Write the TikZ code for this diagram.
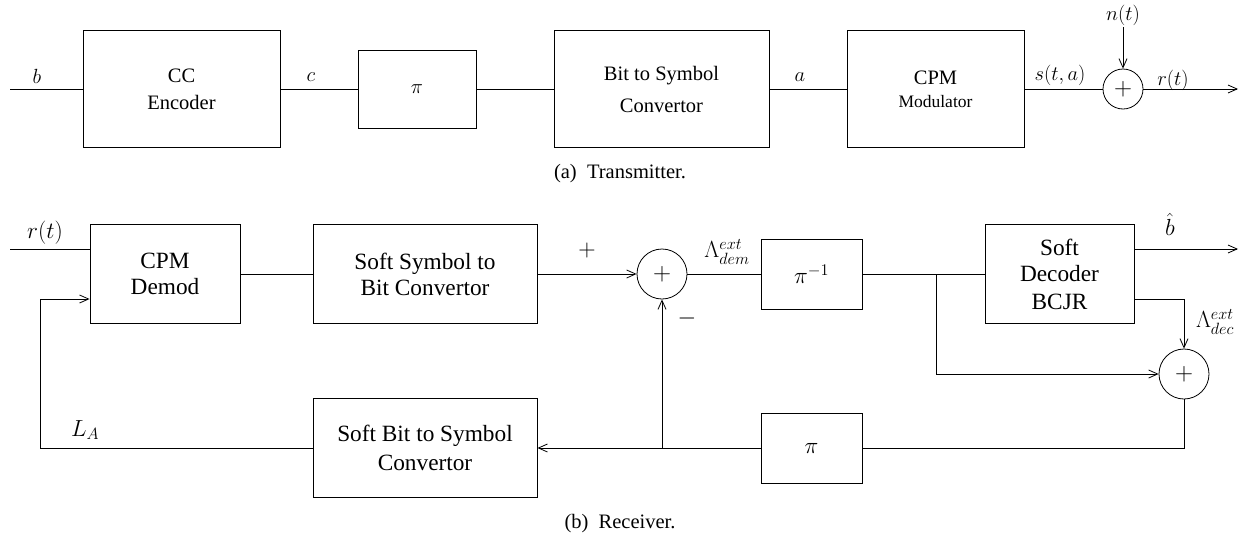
\documentclass[tikz,border=0pt]{standalone}
\usepackage{fix-cm}
\usepackage{amssymb}
\usepackage{amsmath}
\usepackage{fontspec}
\setmainfont{Liberation Serif}
\usepackage{tikz}
\usetikzlibrary{positioning,arrows.meta}

\newcommand{\txsize}{\fontsize{20.5}{27}\selectfont}
\newcommand{\rxsize}{\fontsize{23.3}{26}\selectfont}
\newcommand{\plussize}{\fontsize{25}{25}\selectfont}

\begin{document}
\begin{tikzpicture}[
x=1pt,y=-1pt,
line width=0.8pt,
block/.style={
  draw,
  rectangle,
  line width=0.9pt,
  inner sep=0pt,
  align=center
  },
txblock/.style={
  block,
  font=\txsize
  },
rxblock/.style={
  block,
  font=\rxsize
  },
adder/.style={
  draw,
  circle,
  inner sep=0pt,
  font=\plussize
  },
lbl/.style={
  inner sep=0pt
  },
>={Straight Barb[length=9pt,width=8pt]}
]
\useasboundingbox (0,0) rectangle (1247,536);

\node[txblock, minimum width=197pt, minimum height=117pt] (enc) at (181.5,89) {CC\\Encoder};
\node[txblock, minimum width=118pt, minimum height=78pt] (pi) at (417,89) {$\pi$};
\node[txblock, minimum width=215pt, minimum height=117pt] (b2s) at (661.5,89) {Bit to Symbol\\[5pt]Convertor};
\node[txblock, minimum width=177pt, minimum height=117pt] (mod) at (935.5,89) {CPM\\[-4pt]{\fontsize{17.5}{20}\selectfont Modulator}};
\node[adder, minimum size=40pt] (sum1) at (1123,89) {$+$};
\coordinate (tin) at (10,89);
\coordinate (tout) at (1238,89);
\coordinate (noise) at (1123,27);

\node[lbl, font=\txsize] (blab) at (37,76) {$b$};
\node[lbl, font=\txsize] (clab) at (311,77) {$c$};
\node[lbl, font=\txsize] (alab) at (800,77) {$a$};
\node[lbl, font=\txsize] (slab) at (1060,75) {$s(t,a)$};
\node[lbl, font=\txsize] (rlab) at (1173,80) {$r(t)$};
\node[lbl, font=\txsize] (nlab) at (1123,15) {$n(t)$};

\draw (tin) -- (enc);
\foreach \a/\b in {enc/pi,pi/b2s,b2s/mod,mod/sum1}
  \draw (\a) -- (\b);
\draw[->] (sum1) -- (tout);
\draw[->] (noise) -- (sum1);

\node[font=\txsize, anchor=base] (capa) at (620,178) {(a)\enspace Transmitter.};

\node[rxblock, minimum width=150pt, minimum height=99pt] (dem) at (165,274) {CPM\\Demod};
\node[rxblock, minimum width=224pt, minimum height=99pt] (s2b) at (425,274) {Soft Symbol to\\Bit Convertor};
\node[adder, minimum size=50pt] (sum2) at (662,274) {$+$};
\node[rxblock, minimum width=101pt, minimum height=70pt] (deint) at (811.5,274) {$\pi^{-1}$};
\node[rxblock, minimum width=149pt, minimum height=99pt] (dec) at (1059.5,274) {Soft\\Decoder\\[2pt]BCJR};
\node[adder, minimum size=50pt] (sum3) at (1184,374) {$+$};
\node[rxblock, minimum width=101pt, minimum height=70pt] (int) at (811.5,448) {$\pi$};
\node[rxblock, minimum width=224pt, minimum height=99pt] (b2s2) at (425,448) {Soft Bit to Symbol\\[3pt]Convertor};
\coordinate (rin) at (10,249);
\coordinate (bout) at (1238,249);
\coordinate (ext) at (1184,299);
\coordinate (br) at (936,274);
\coordinate (jn) at (662,448);
\coordinate (fb) at (40,299);

\node[lbl, font=\rxsize] (rinlab) at (45,233) {$r(t)$};
\node[lbl, font=\fontsize{24}{24}\selectfont] (pluslab) at (587,250) {$+$};
\node[lbl, font=\fontsize{24}{24}\selectfont] (minuslab) at (687,318) {$-$};
\node[lbl, font=\rxsize] (demlab) at (727,252) {$\Lambda^{ext}_{dem}$};
\node[lbl, font=\rxsize] (bhatlab) at (1170,224) {$\hat{b}$};
\node[lbl, font=\rxsize] (declab) at (1215,322) {$\Lambda^{ext}_{dec}$};
\node[lbl, font=\rxsize] (lalab) at (85,430) {$L_A$};

\draw (rin) -- (dem.west |- rin);
\draw (dem) -- (s2b);
\draw[->] (s2b) -- (sum2);
\draw (sum2) -- (deint);
\draw (deint) -- (dec);
\draw[->] (dec.east |- bout) -- (bout);
\draw[->] (dec.east |- ext) -| (sum3);
\draw[->] (br) |- (sum3);
\draw (sum3) |- (int);
\draw[->] (int) -- (b2s2);
\draw[->] (jn) -- (sum2);
\draw[->] (b2s2) -| (fb) -- (dem.west |- fb);

\node[font=\txsize, anchor=base] (capb) at (620,528) {(b)\enspace Receiver.};
\end{tikzpicture}
\end{document}
